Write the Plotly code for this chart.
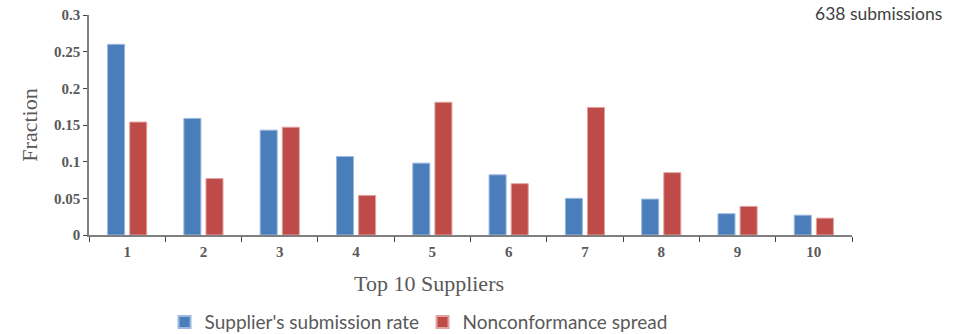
import plotly.graph_objects as go

suppliers = ["1", "2", "3", "4", "5", "6", "7", "8", "9", "10"]
submission_rate = [0.26, 0.159, 0.143, 0.107, 0.098, 0.082, 0.050, 0.049, 0.029, 0.027]
nonconformance_spread = [0.154, 0.077, 0.147, 0.054, 0.181, 0.070, 0.174, 0.085, 0.039, 0.023]
y_ticks = [0, 0.05, 0.1, 0.15, 0.2, 0.25, 0.3]
y_tick_text = ["0", "0.05", "0.1", "0.15", "0.2", "0.25", "0.3"]

BLUE = "#4A7EBB"
RED = "#BE4B48"
GREY = "#595959"
SERIF = "Liberation Serif, Times New Roman, serif"
SANS = "Lato, Open Sans, sans-serif"

fig = go.Figure()
fig.add_trace(go.Bar(
    x=suppliers, y=submission_rate, name="Supplier's submission rate",
    marker=dict(color=BLUE, line=dict(color="#9DB8DE", width=1)),
))
fig.add_trace(go.Bar(
    x=suppliers, y=nonconformance_spread, name="Nonconformance spread",
    marker=dict(color=RED, line=dict(color="#E0A3A1", width=1)),
))

fig.update_layout(
    width=960, height=334,
    margin=dict(l=89, r=108, t=15, b=99, autoexpand=False),
    paper_bgcolor="white", plot_bgcolor="white",
    barmode="group", bargap=0.42, bargroupgap=0.23,
    showlegend=True,
    legend=dict(
        orientation="h", x=0.099, xanchor="left", y=-0.31, yanchor="top",
        font=dict(family=SANS, size=19, color=GREY),
        itemsizing="constant", traceorder="normal",
        entrywidth=213, entrywidthmode="pixels",
    ),
    xaxis=dict(
        type="category", showline=True, linecolor="#7F7F7F", linewidth=1.5,
        ticks="outside", tickson="boundaries", ticklen=5, tickcolor="#404040",
        tickfont=dict(family=SERIF, size=15, color=GREY, weight="bold"),
        ticklabelstandoff=2,
        showgrid=False, zeroline=False,
    ),
    yaxis=dict(
        range=[0, 0.3], tickvals=y_ticks, ticktext=y_tick_text,
        showline=True, linecolor="#7F7F7F", linewidth=1.5,
        ticks="outside", ticklen=4, tickcolor="#404040",
        tickfont=dict(family=SERIF, size=15, color=GREY, weight="bold"),
        showgrid=False, zeroline=False,
        title=dict(text="Fraction", font=dict(family=SERIF, size=22, color=GREY), standoff=10),
    ),
    annotations=[
        dict(text="Top 10 Suppliers", xref="paper", yref="paper", x=0.4456, y=-0.155,
             xanchor="center", yanchor="top", showarrow=False,
             font=dict(family=SERIF, size=22, color=GREY)),
        dict(text="638 submissions", xref="paper", yref="paper", x=1.1205, y=1.009,
             xanchor="right", yanchor="middle", showarrow=False,
             font=dict(family=SANS, size=17.5, color="#404040")),
    ],
)

fig.write_html("out.html")
